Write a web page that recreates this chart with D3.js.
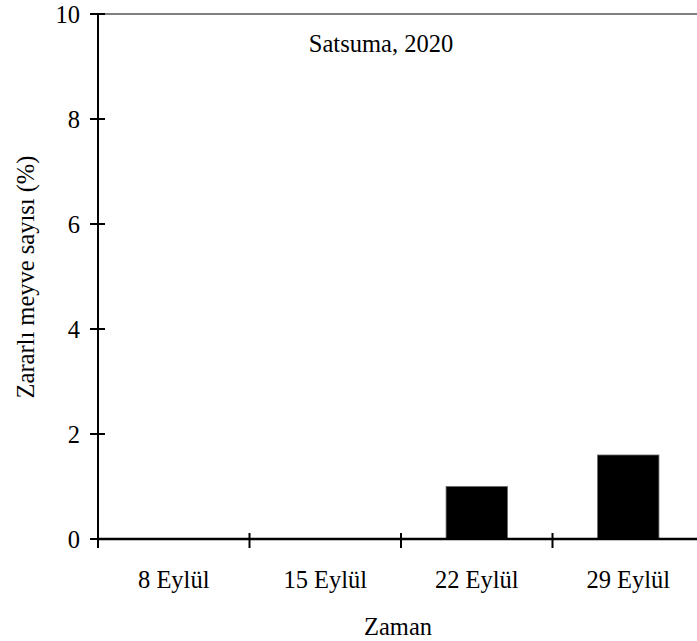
<!DOCTYPE html>
<html lang="tr">
<head>
<meta charset="utf-8">
<title>Satsuma, 2020</title>
<style>
  body { margin: 0; background: #fff; }
  text { font-family: "Liberation Serif", "Times New Roman", serif; fill: #000; }
</style>
</head>
<body>
<script src="https://cdn.jsdelivr.net/npm/d3@7/dist/d3.min.js"></script>
<script>

var categories = ["8 Eylül", "15 Eylül", "22 Eylül", "29 Eylül"];
var values = [0, 0, 1.0, 1.6];
var yTicks = [0, 2, 4, 6, 8, 10];

var W = 697, H = 641;
var plotLeft = 98, plotTop = 14, plotBottom = 539;
var step = 151.5;
var fs = 24.5;

var svg = d3.select("body").append("svg")
    .attr("width", W)
    .attr("height", H);

var y = d3.scaleLinear()
    .domain([0, 10])
    .range([plotBottom, plotTop]);

var x = d3.scaleBand()
    .domain(categories)
    .range([plotLeft, plotLeft + step * categories.length])
    .paddingInner(0.595)
    .paddingOuter(0.2975);

// top frame line (grey)
svg.append("line")
    .attr("x1", plotLeft).attr("x2", W)
    .attr("y1", y(10)).attr("y2", y(10))
    .attr("stroke", "#808080")
    .attr("stroke-width", 2);

// bars
svg.selectAll("rect.bar")
    .data(values)
    .enter()
    .append("rect")
    .attr("class", "bar")
    .attr("x", function(d, i){ return x(categories[i]); })
    .attr("y", function(d){ return y(d); })
    .attr("width", x.bandwidth())
    .attr("height", function(d){ return plotBottom - y(d); })
    .attr("fill", function(d){ return d > 0 ? "#000" : "none"; })
    .attr("stroke", function(d){ return d > 0 ? "#666" : "none"; })
    .attr("stroke-width", 0.8);

// y axis
svg.append("line")
    .attr("x1", plotLeft).attr("x2", plotLeft)
    .attr("y1", y(10)).attr("y2", plotBottom)
    .attr("stroke", "#000").attr("stroke-width", 2);

svg.selectAll("line.ytick")
    .data(yTicks)
    .enter()
    .append("line")
    .attr("class", "ytick")
    .attr("x1", plotLeft - 8).attr("x2", plotLeft + 7)
    .attr("y1", function(d){ return y(d); })
    .attr("y2", function(d){ return y(d); })
    .attr("stroke", "#000").attr("stroke-width", 2);

svg.selectAll("text.ytick")
    .data(yTicks)
    .enter()
    .append("text")
    .attr("class", "ytick")
    .attr("x", plotLeft - 18)
    .attr("y", function(d){ return y(d); })
    .attr("dy", "0.35em")
    .attr("text-anchor", "end")
    .attr("font-size", fs)
    .text(function(d){ return d; });

// x axis
svg.append("line")
    .attr("x1", plotLeft).attr("x2", W)
    .attr("y1", plotBottom).attr("y2", plotBottom)
    .attr("stroke", "#000").attr("stroke-width", 2.5);

var bounds = d3.range(categories.length + 1).map(function(i){ return plotLeft + i * x.step(); });

svg.selectAll("line.xtick")
    .data(bounds)
    .enter()
    .append("line")
    .attr("class", "xtick")
    .attr("x1", function(d){ return d; })
    .attr("x2", function(d){ return d; })
    .attr("y1", plotBottom - 6).attr("y2", plotBottom + 9)
    .attr("stroke", "#000").attr("stroke-width", 2);

svg.selectAll("text.xlab")
    .data(categories)
    .enter()
    .append("text")
    .attr("class", "xlab")
    .attr("x", function(d){ return x(d) + x.bandwidth() / 2; })
    .attr("y", 588)
    .attr("text-anchor", "middle")
    .attr("font-size", fs)
    .text(function(d){ return d; });

// titles
svg.append("text")
    .attr("x", 381).attr("y", 52)
    .attr("text-anchor", "middle")
    .attr("font-size", fs)
    .text("Satsuma, 2020");

svg.append("text")
    .attr("x", 398).attr("y", 635)
    .attr("text-anchor", "middle")
    .attr("font-size", fs)
    .text("Zaman");

svg.append("text")
    .attr("transform", "translate(34,277) rotate(-90)")
    .attr("text-anchor", "middle")
    .attr("font-size", fs)
    .text("Zararlı meyve sayısı (%)");

</script>
</body>
</html>
